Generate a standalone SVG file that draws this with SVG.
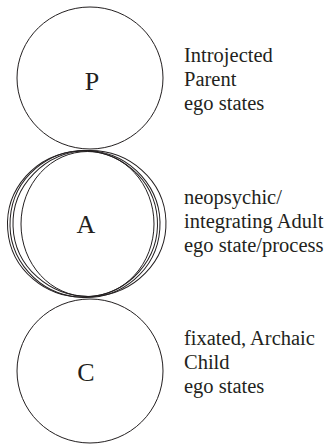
<svg xmlns="http://www.w3.org/2000/svg" width="332" height="444" viewBox="0 0 332 444">
<style>
.ring{fill:none;stroke:#231f20;stroke-width:1}
.lbl{font-family:"Liberation Serif","Times New Roman",serif;font-size:26px;fill:#231f20;text-anchor:middle}
.desc{font-family:"Liberation Serif","Times New Roman",serif;font-size:20.5px;fill:#231f20}
</style>
<rect width="332" height="444" fill="#fff"/>
<g id="P">
<ellipse class="ring" cx="90" cy="78" rx="73" ry="71"/>
<text class="lbl" x="92" y="90">P</text>
</g>
<g id="A">
<ellipse class="ring" cx="87.5" cy="224" rx="66.5" ry="72.5"/>
<ellipse class="ring" cx="82.5" cy="224" rx="75" ry="73" transform="rotate(-4 82.5 224)"/>
<ellipse class="ring" cx="85" cy="224" rx="75" ry="73.5" transform="rotate(4 85 224)"/>
<ellipse class="ring" cx="89.5" cy="223.5" rx="76.5" ry="73" transform="rotate(-2 89.5 224)"/>
<text class="lbl" x="86" y="233">A</text>
</g>
<g id="C">
<ellipse class="ring" cx="90" cy="371" rx="73" ry="72"/>
<text class="lbl" x="86" y="381">C</text>
</g>
<g id="labels">
<text class="desc" x="184" y="62">Introjected</text>
<text class="desc" x="184" y="86">Parent</text>
<text class="desc" x="184" y="110">ego states</text>
<text class="desc" x="184" y="204">neopsychic/</text>
<text class="desc" x="184" y="228">integrating Adult</text>
<text class="desc" x="184" y="252">ego state/process</text>
<text class="desc" x="184" y="345">fixated, Archaic</text>
<text class="desc" x="184" y="369">Child</text>
<text class="desc" x="184" y="393">ego states</text>
</g>
<g id="connectors"/>
</svg>
